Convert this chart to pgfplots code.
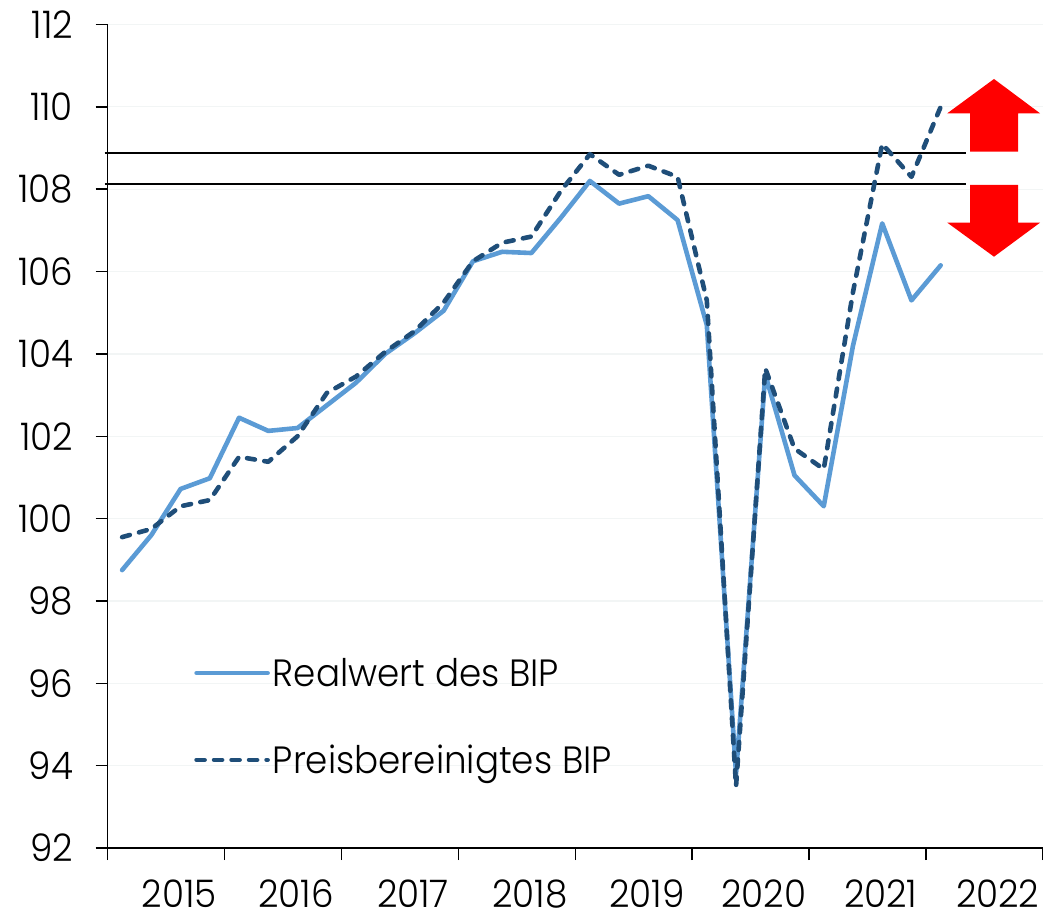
\documentclass[border=0pt]{standalone}
\usepackage{pgfplots}
\pgfplotsset{compat=1.18}
\usepackage{fontspec}
\setmainfont[FakeStretch=0.94]{Poppins Light}
\definecolor{realblue}{HTML}{5B9BD5}
\definecolor{preisblue}{HTML}{1F4E79}
\definecolor{gridc}{HTML}{F2F5F5}
\begin{document}
\begin{tikzpicture}[x=1pt,y=1pt]
\useasboundingbox (0,0) rectangle (1043,914);
\begin{axis}[
  at={(107.5pt,66pt)}, anchor=south west,
  scale only axis, width=935.5pt, height=823.5pt,
  xmin=0, xmax=32, ymin=92, ymax=112,
  axis x line=bottom, axis y line=left,
  axis line style={-, black, line width=1.5pt},
  xtick={0,4,...,32}, xticklabels={},
  ytick={92,94,...,112},
  extra x ticks={2.45,6.45,10.45,14.45,18.45,22.45,26.45,30.45},
  extra x tick labels={2015,2016,2017,2018,2019,2020,2021,2022},
  extra x tick style={major tick length=0pt, grid=none, tick label style={yshift=-28pt}},
  tick align=outside, major tick length=12pt,
  tick style={black, line width=1.5pt},
  ymajorgrids, grid style={gridc, line width=1.3pt},
  /pgf/number format/assume math mode=true,
  /pgf/number format/1000 sep={},
  tick label style={font=\fontsize{38}{38}\selectfont, text=black},
  yticklabel style={xshift=-19pt},
  clip=false,
  legend style={at={(89.5pt,190pt)}, anchor=north west, draw=none, fill=none,
    /tikz/every even column/.append style={column sep=0pt},
    row sep=57pt, inner sep=0pt, font=\fontsize{38}{38}\selectfont,
    nodes={inner sep=0pt, anchor=west}},
  legend cell align=left,
  legend image code/.code={\draw[#1] (0pt,0pt) -- (71pt,0pt);},
]
\addplot[black, line width=2.4pt, forget plot] coordinates {(-0.1,108.88) (29.35,108.88)};
\addplot[black, line width=2.4pt, forget plot] coordinates {(-0.1,108.13) (29.35,108.13)};
\addplot[realblue, line width=4.6pt, line cap=round, line join=round] table {
0.5 98.75
1.5 99.6
2.5 100.72
3.5 100.98
4.5 102.45
5.5 102.13
6.5 102.2
7.5 102.75
8.5 103.3
9.5 104.0
10.5 104.5
11.5 105.05
12.5 106.25
13.5 106.48
14.5 106.45
15.5 107.3
16.5 108.2
17.5 107.65
18.5 107.83
19.5 107.25
20.5 104.7
21.5 93.8
22.5 103.5
23.5 101.05
24.5 100.3
25.5 104.2
26.5 107.17
27.5 105.3
28.5 106.15
};
\addlegendentry{\hspace{3pt}Realwert des BIP}
\addplot[preisblue, line width=4.6pt, line cap=round, line join=round, dash pattern=on 8pt off 9.5pt] table {
0.5 99.55
1.5 99.75
2.5 100.3
3.5 100.45
4.5 101.5
5.5 101.38
6.5 102.0
7.5 103.05
8.5 103.45
9.5 104.05
10.5 104.55
11.5 105.25
12.5 106.25
13.5 106.7
14.5 106.85
15.5 107.95
16.5 108.85
17.5 108.35
18.5 108.57
19.5 108.3
20.5 105.3
21.5 93.5
22.5 103.65
23.5 101.7
24.5 101.2
25.5 105.5
26.5 109.1
27.5 108.3
28.5 110.0
};
\addlegendentry{\hspace{3pt}Preisbereinigtes BIP}
\end{axis}
\fill[red] (994,835) -- (1040,800.7) -- (1018,800.7) -- (1018,762.3) -- (970,762.3) -- (970,800.7) -- (947.3,800.7) -- cycle;
\fill[red] (994,657.3) -- (1040,691.3) -- (1018,691.3) -- (1018,729) -- (970,729) -- (970,691.3) -- (947.3,691.3) -- cycle;
\end{tikzpicture}
\end{document}
